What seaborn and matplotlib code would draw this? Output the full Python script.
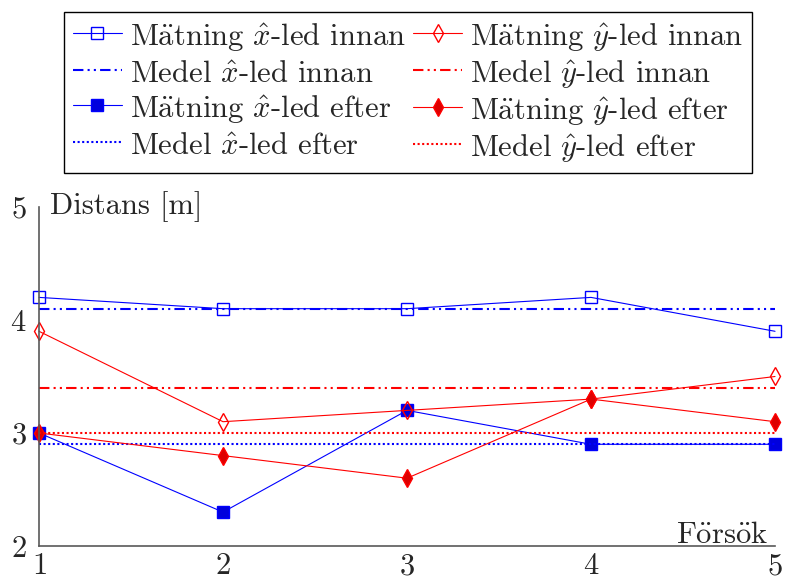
import numpy as np
import matplotlib
matplotlib.use("Agg")
import matplotlib.pyplot as plt
import seaborn as sns

sns.set_style("white")
plt.rcParams["font.family"] = ["cmr10", "DejaVu Serif"]
plt.rcParams["mathtext.fontset"] = "cm"
plt.rcParams["axes.unicode_minus"] = False
plt.rcParams["axes.formatter.use_mathtext"] = True

# data
forsok = [1, 2, 3, 4, 5]
x_innan = [4.2, 4.1, 4.1, 4.2, 3.9]
y_innan = [3.9, 3.1, 3.2, 3.3, 3.5]
x_efter = [3.0, 2.3, 3.2, 2.9, 2.9]
y_efter = [3.0, 2.8, 2.6, 3.3, 3.1]
medel_x_innan = 4.1
medel_y_innan = 3.4
medel_x_efter = 2.9
medel_y_efter = 3.0

ae = r"M$\ddot{\mathrm{a}}$tning"
lbl = {
    "mxi": ae + r" $\hat{x}$-led innan",
    "myi": ae + r" $\hat{y}$-led innan",
    "dxi": r"Medel $\hat{x}$-led innan",
    "dyi": r"Medel $\hat{y}$-led innan",
    "mxe": ae + r" $\hat{x}$-led efter",
    "mye": ae + r" $\hat{y}$-led efter",
    "dxe": r"Medel $\hat{x}$-led efter",
    "dye": r"Medel $\hat{y}$-led efter",
}

fig = plt.figure(figsize=(7.85, 5.79), dpi=100)
ax = fig.add_axes([0.0497, 0.057, 0.9376, 0.5855])

dashdotdot = (0, (5, 2, 1, 2, 1, 2))
dotted = (0, (1, 1.2))

sns.lineplot(x=forsok, y=x_innan, ax=ax, color="blue", lw=0.8, marker="s", ms=9,
             markerfacecolor="none", markeredgecolor="blue", mew=1, clip_on=False,
             label=lbl["mxi"])
sns.lineplot(x=forsok, y=[medel_x_innan] * len(forsok), ax=ax, color="blue", lw=1.5,
             linestyle=dashdotdot, label=lbl["dxi"])
sns.lineplot(x=forsok, y=x_efter, ax=ax, color="blue", lw=0.8, marker="s", ms=9,
             markerfacecolor="#0000dd", markeredgecolor="blue", mew=1, clip_on=False,
             label=lbl["mxe"])
sns.lineplot(x=forsok, y=[medel_x_efter] * len(forsok), ax=ax, color="blue", lw=1.5,
             linestyle=dotted, label=lbl["dxe"])

sns.lineplot(x=forsok, y=y_innan, ax=ax, color="red", lw=0.8, marker="d", ms=9,
             markerfacecolor="none", markeredgecolor="red", mew=1, clip_on=False,
             label=lbl["myi"])
sns.lineplot(x=forsok, y=[medel_y_innan] * len(forsok), ax=ax, color="red", lw=1.5,
             linestyle=dashdotdot, label=lbl["dyi"])
sns.lineplot(x=forsok, y=y_efter, ax=ax, color="red", lw=0.8, marker="d", ms=9,
             markerfacecolor="#dd0000", markeredgecolor="red", mew=1, clip_on=False,
             label=lbl["mye"])
sns.lineplot(x=forsok, y=[medel_y_efter] * len(forsok), ax=ax, color="red", lw=1.5,
             linestyle=dotted, label=lbl["dye"])

ax.set_xlim(1, 5)
ax.set_ylim(2, 5)
ax.set_xticks(forsok)
ax.set_yticks([2, 3, 4, 5])
for s in ["top", "right"]:
    ax.spines[s].set_visible(False)
for s in ["left", "bottom"]:
    ax.spines[s].set_color("0.35")
    ax.spines[s].set_linewidth(1.2)
    ax.spines[s].set_zorder(3)
ax.tick_params(direction="in", length=8, width=0.8, color="0.5", labelsize=22)
ax.tick_params(axis="y", pad=9)
ax.tick_params(axis="x", pad=5)
ax.set_xlabel("")
ax.set_ylabel("")

# axis labels inside the axes, white background over the data lines
ax.text(0.015, 1.0, "Distans [m]", transform=ax.transAxes, fontsize=22,
        ha="left", va="center", zorder=2.8,
        bbox=dict(facecolor="white", edgecolor="none", pad=1))
ax.text(0.99, 0.01, "F$\\ddot{\\mathrm{o}}$rs$\\ddot{\\mathrm{o}}$k", transform=ax.transAxes,
        fontsize=22, ha="right", va="baseline", zorder=2.8,
        bbox=dict(facecolor="white", edgecolor="none", pad=0.5))

# legend above the axes, rows of equal height in both columns
handles, labels = ax.get_legend_handles_labels()
ax.get_legend().remove()
fig.legend(handles, labels, ncol=2, loc="upper center", bbox_to_anchor=(0.52, 0.979),
           fontsize=22, frameon=True, fancybox=False, edgecolor="black", framealpha=1,
           handlelength=1.6, handleheight=1.12, handletextpad=0.26, columnspacing=0.25,
           borderpad=0.28, labelspacing=0.12, borderaxespad=0)

fig.savefig("out.png", dpi=100)
